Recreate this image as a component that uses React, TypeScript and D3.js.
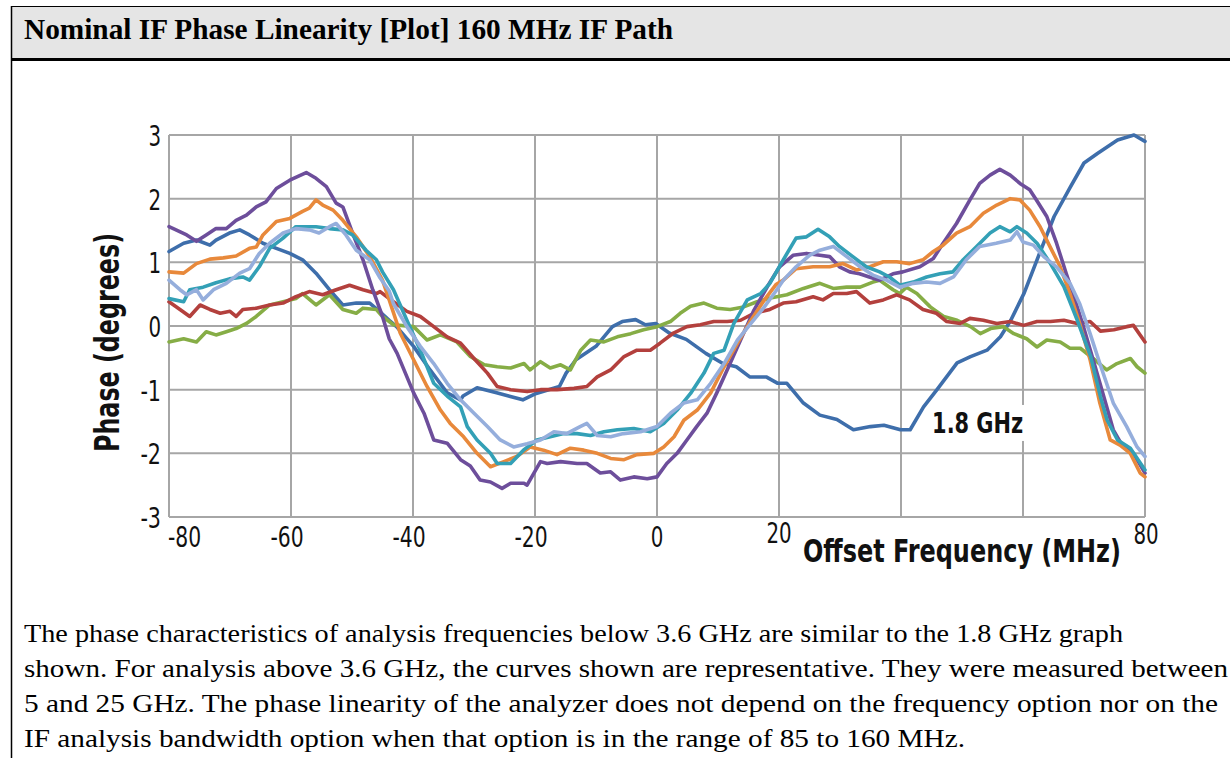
import React, { useLayoutEffect, useRef, useState } from "react";
import * as d3 from "d3";

// ---- Data ----
const xGrid = [-80, -60, -40, -20, 0, 20, 40, 60, 80];
const yGrid = [-3, -2, -1, 0, 1, 2, 3];
const xTickLabels = [-80, -60, -40, -20, 0, 20, 80];
const yTickLabels = [3, 2, 1, 0, -1, -2, -3];

const title = "Nominal IF Phase Linearity [Plot] 160 MHz IF Path";
const yTitle = "Phase (degrees)";
const xTitle = "Offset Frequency (MHz)";
const annotation = "1.8 GHz";
const annotationPos: [number, number] = [45.1, -1.68];
const paragraph = [
  "The phase characteristics of analysis frequencies below 3.6 GHz are similar to the 1.8 GHz graph",
  "shown. For analysis above 3.6 GHz, the curves shown are representative. They were measured between",
  "5 and 25 GHz. The phase linearity of the analyzer does not depend on the frequency option nor on the",
  "IF analysis bandwidth option when that option is in the range of 85 to 160 MHz.",
];

type P = [number, number];

const blue18: P[] = [[-80,1.17],[-77.6,1.3],[-75.5,1.35],[-73.3,1.27],[-72.3,1.35],[-70.1,1.46],[-68.4,1.51],[-66.8,1.43],[-64.6,1.3],[-62.4,1.22],[-60.2,1.14],[-58.1,1.04],[-55.9,0.83],[-53.7,0.57],[-51.5,0.33],[-49.3,0.36],[-47.1,0.36],[-45.5,0.23],[-43.9,0.09],[-42.7,-0.01],[-39.9,-0.32],[-37.2,-0.69],[-34.4,-1.05],[-32.2,-1.16],[-31.8,-1.1],[-29.5,-0.97],[-26.3,-1.05],[-22,-1.16],[-19.8,-1.06],[-16,-0.95],[-14.9,-0.74],[-13.3,-0.53],[-10,-0.32],[-7.3,-0.01],[-5.7,0.07],[-3.5,0.1],[-1.9,0.02],[-0.2,0.04],[2,-0.11],[4.8,-0.21],[8,-0.43],[10.8,-0.59],[13,-0.64],[15.2,-0.8],[17.9,-0.8],[19.8,-0.9],[21.3,-0.9],[24,-1.21],[26.7,-1.4],[29.5,-1.47],[32.2,-1.63],[35,-1.58],[37.2,-1.56],[39.9,-1.63],[41.5,-1.63],[43.7,-1.27],[45.9,-1.0],[49.2,-0.58],[51.4,-0.48],[54.1,-0.38],[56.3,-0.17],[58,0.09],[60.2,0.52],[62.3,1.04],[65.1,1.72],[67.8,2.19],[70,2.56],[72.2,2.71],[75.5,2.92],[78.2,3.0],[80,2.9]];

const purple: P[] = [[-80,1.56],[-77.1,1.43],[-75.5,1.33],[-73.9,1.43],[-72.3,1.53],[-70.6,1.53],[-69,1.66],[-67.3,1.74],[-65.7,1.87],[-64.1,1.95],[-62.4,2.16],[-60.2,2.29],[-57.5,2.41],[-55.9,2.32],[-54.2,2.19],[-52.6,1.93],[-51.5,1.87],[-49.9,1.46],[-48.2,1.04],[-46.6,0.57],[-45,0.15],[-43.9,-0.2],[-42.6,-0.43],[-39.9,-1.05],[-38.2,-1.37],[-36.6,-1.79],[-34.4,-1.84],[-32.2,-2.1],[-30.6,-2.2],[-29,-2.42],[-27.3,-2.45],[-25.4,-2.55],[-24,-2.47],[-21.8,-2.47],[-21.3,-2.5],[-19.1,-2.13],[-18,-2.16],[-15.8,-2.13],[-13.1,-2.16],[-11.5,-2.16],[-9.3,-2.31],[-7.6,-2.29],[-6,-2.42],[-3.8,-2.37],[-1.6,-2.4],[0,-2.37],[1.6,-2.16],[3.3,-2.0],[4.9,-1.79],[6.5,-1.58],[8.2,-1.37],[9.8,-1.05],[11.5,-0.69],[13.7,-0.22],[15.9,0.25],[18.1,0.62],[20.1,0.93],[22.3,1.11],[24.5,1.14],[26.7,1.11],[28.3,1.09],[29.9,0.93],[31.6,0.85],[33.2,0.82],[34.8,0.77],[36.5,0.72],[38.7,0.82],[40.3,0.85],[43.1,0.93],[45.3,1.06],[46.9,1.3],[49.1,1.61],[51.3,1.98],[52.9,2.24],[54.6,2.37],[56.2,2.46],[57.9,2.37],[59.5,2.24],[61.1,2.14],[62.2,1.98],[63.9,1.72],[65.5,1.3],[67.1,0.82],[68.2,0.51],[69.9,-0.01],[71.5,-0.53],[73.1,-1.06],[74.8,-1.63],[76.4,-1.9],[78.1,-2.0],[80,-2.31]];

const orange: P[] = [[-80,0.85],[-77.6,0.83],[-75.5,0.98],[-73.3,1.05],[-71.1,1.07],[-69,1.1],[-66.8,1.22],[-65.7,1.24],[-64.6,1.43],[-62.4,1.64],[-60.2,1.69],[-58.1,1.8],[-57,1.85],[-55.9,1.98],[-54.8,1.9],[-53.1,1.82],[-51.5,1.66],[-49.3,1.4],[-47.1,1.09],[-45,0.72],[-43.9,0.41],[-42.1,-0.11],[-39.9,-0.53],[-37.7,-0.95],[-35.5,-1.32],[-33.9,-1.53],[-31.7,-1.74],[-29.5,-2.0],[-27.3,-2.21],[-25.1,-2.13],[-23,-2.05],[-20.8,-1.9],[-18.6,-1.95],[-16.4,-2.02],[-14.2,-1.92],[-12,-1.95],[-9.8,-2.0],[-7.6,-2.08],[-5.4,-2.1],[-3.3,-2.02],[-0.5,-2.0],[1.1,-1.9],[2.8,-1.74],[4.4,-1.48],[6.6,-1.32],[8.8,-1.05],[11,-0.64],[13.2,-0.27],[15.4,0.09],[17.6,0.41],[19.5,0.65],[20.7,0.72],[22.8,0.9],[25.6,0.93],[28.3,0.93],[30.5,0.98],[32.7,0.88],[34.9,0.93],[37.1,1.01],[39.3,1.01],[41.4,0.98],[43.6,1.04],[45.3,1.17],[46.9,1.27],[49.1,1.46],[51.3,1.56],[53.5,1.77],[55.7,1.9],[57.9,2.0],[59.5,1.98],[61.1,1.82],[62.8,1.56],[64.4,1.25],[66.1,0.93],[67.7,0.51],[69.3,0.04],[71,-0.53],[72.6,-1.21],[74.3,-1.79],[75.9,-1.87],[77.6,-2.0],[79.2,-2.31],[80,-2.37]];

const teal: P[] = [[-80,0.43],[-77.6,0.38],[-76.6,0.57],[-74.4,0.61],[-72.3,0.68],[-70.1,0.74],[-67.9,0.77],[-66.8,0.72],[-65.2,0.93],[-63.5,1.22],[-61.3,1.38],[-59.2,1.56],[-55.9,1.56],[-53.7,1.53],[-51.5,1.51],[-49.9,1.43],[-47.7,1.19],[-46,1.04],[-45,0.85],[-43.2,0.57],[-41,0.09],[-38.8,-0.38],[-36.6,-0.9],[-34.4,-1.1],[-32.2,-1.27],[-31.1,-1.58],[-29.5,-1.79],[-27.3,-2.0],[-26.2,-2.16],[-24,-2.16],[-21.9,-1.95],[-19.7,-1.79],[-17.5,-1.74],[-15.3,-1.69],[-13.1,-1.69],[-10.9,-1.72],[-8.7,-1.66],[-6.5,-1.63],[-3.8,-1.61],[-1.1,-1.66],[1.1,-1.53],[3.3,-1.32],[5.5,-1.06],[7.7,-0.74],[9.3,-0.43],[11,-0.38],[12.6,0.04],[14.8,0.41],[17,0.51],[18.5,0.67],[20.7,1.04],[22.8,1.38],[24.5,1.4],[26.4,1.52],[28.3,1.4],[29.9,1.25],[32.1,1.09],[34.3,0.93],[36.5,0.85],[38.1,0.77],[39.8,0.64],[42,0.69],[44.2,0.77],[46.4,0.82],[48.5,0.85],[50.2,1.04],[52.4,1.25],[54.6,1.46],[56.2,1.56],[57.9,1.48],[59,1.56],[60.6,1.46],[62.3,1.3],[64.5,0.98],[66.7,0.62],[68.9,0.09],[71.1,-0.48],[72.7,-1.11],[73.8,-1.48],[75.5,-1.79],[77.6,-1.92],[80,-2.26]];

const lightBlue: P[] = [[-80,0.72],[-78.2,0.57],[-77.1,0.49],[-75.5,0.57],[-74.4,0.41],[-72.7,0.57],[-70.6,0.67],[-68.4,0.83],[-66.8,0.9],[-65.2,1.14],[-63.5,1.3],[-61.3,1.46],[-59.2,1.53],[-57,1.51],[-55.4,1.46],[-53.7,1.56],[-52.6,1.61],[-51,1.43],[-49.3,1.19],[-47.1,1.04],[-45.5,0.77],[-43.9,0.55],[-43.2,0.35],[-41,-0.01],[-38.8,-0.32],[-36.6,-0.59],[-34.4,-0.9],[-32.2,-1.16],[-30,-1.37],[-27.8,-1.58],[-25.7,-1.79],[-23.5,-1.9],[-21.3,-1.85],[-19.1,-1.79],[-16.9,-1.66],[-14.8,-1.69],[-12.6,-1.58],[-11.5,-1.53],[-9.8,-1.72],[-7.6,-1.74],[-5.5,-1.69],[-2.7,-1.66],[0,-1.58],[2.2,-1.37],[4.4,-1.21],[6.6,-1.16],[8.8,-0.9],[11,-0.59],[13.2,-0.22],[15.4,0.04],[17.6,0.3],[19.5,0.55],[20.7,0.72],[22.8,0.93],[25,1.11],[26.7,1.19],[28.9,1.25],[31.1,1.09],[33.3,0.93],[35.4,0.8],[37.6,0.72],[39.8,0.61],[42,0.67],[44.2,0.69],[46.4,0.67],[48.6,0.77],[50.7,1.04],[52.9,1.25],[55.6,1.3],[57.9,1.35],[59,1.48],[60,1.32],[61.7,1.27],[63.4,1.09],[65.5,0.93],[67.7,0.67],[69.3,0.35],[71,-0.12],[72.6,-0.59],[74.8,-1.21],[77,-1.58],[78.7,-1.9],[80,-2.05]];

const red: P[] = [[-80,0.38],[-78.2,0.26],[-76.6,0.15],[-74.9,0.33],[-73.3,0.26],[-71.6,0.2],[-70,0.23],[-69,0.15],[-67.9,0.26],[-65.7,0.28],[-63.5,0.33],[-61.3,0.36],[-59.2,0.46],[-57,0.54],[-54.8,0.49],[-52.6,0.57],[-50.4,0.64],[-48.2,0.57],[-46,0.51],[-45.4,0.54],[-43.2,0.38],[-41,0.23],[-38.8,0.15],[-36.6,-0.01],[-34.4,-0.17],[-32.2,-0.27],[-30,-0.51],[-27.8,-0.74],[-26.2,-0.95],[-24,-1.0],[-21.3,-1.03],[-19.1,-1.0],[-16.4,-1.0],[-13.6,-0.98],[-11.5,-0.95],[-9.8,-0.8],[-7.6,-0.69],[-5.4,-0.48],[-3.3,-0.38],[-1.1,-0.38],[0.5,-0.27],[2.7,-0.11],[4.9,-0.01],[7.1,0.02],[9.3,0.07],[11.5,0.07],[13.7,0.09],[15.9,0.2],[18.5,0.26],[20.7,0.36],[22.8,0.38],[25.6,0.46],[27.2,0.41],[28.9,0.51],[31.1,0.51],[32.7,0.54],[34.9,0.36],[37.1,0.41],[39.3,0.49],[41.4,0.41],[43.6,0.26],[45.8,0.2],[47.5,0.07],[49.7,0.04],[51.3,0.12],[53.5,0.09],[55.7,0.04],[57.9,0.07],[60.1,0.01],[62.3,0.07],[64.5,0.07],[66.7,0.09],[68.9,0.04],[71,0.07],[72.7,-0.08],[74.9,-0.06],[77,-0.01],[78.1,0.01],[80,-0.25]];

const green: P[] = [[-80,-0.25],[-77.6,-0.2],[-75.5,-0.25],[-73.9,-0.09],[-72.3,-0.14],[-70.6,-0.09],[-69,-0.04],[-67.3,0.04],[-65.7,0.15],[-63.5,0.33],[-61.3,0.38],[-59.2,0.43],[-58.1,0.51],[-55.9,0.33],[-53.7,0.49],[-51.5,0.26],[-49.3,0.2],[-48.2,0.28],[-46,0.26],[-45,0.15],[-43.2,0.02],[-39.9,-0.01],[-37.7,-0.22],[-35.5,-0.14],[-32.8,-0.25],[-30.6,-0.48],[-28.3,-0.61],[-26.2,-0.64],[-24,-0.66],[-21.8,-0.59],[-20.8,-0.69],[-19.1,-0.56],[-17.5,-0.66],[-15.8,-0.61],[-14.2,-0.69],[-12.5,-0.38],[-10.9,-0.22],[-8.7,-0.25],[-6.5,-0.17],[-4.3,-0.12],[-2.2,-0.06],[0,-0.01],[2.2,0.07],[3.8,0.2],[5.5,0.31],[7.7,0.36],[9.8,0.28],[12,0.26],[14.2,0.3],[16.4,0.38],[18.6,0.44],[21.3,0.49],[24,0.59],[26.7,0.67],[28.9,0.59],[31.1,0.61],[33.3,0.61],[35.4,0.69],[36.5,0.72],[38.7,0.57],[39.8,0.51],[40.9,0.61],[42.6,0.51],[44.8,0.3],[47,0.15],[49.2,0.09],[51.4,-0.01],[53,-0.12],[54.7,-0.04],[56.8,-0.01],[58.5,-0.12],[60.6,-0.2],[62.3,-0.33],[63.9,-0.22],[66.1,-0.25],[67.7,-0.35],[69.4,-0.35],[71.5,-0.51],[73.7,-0.69],[75.4,-0.59],[77.6,-0.51],[78.7,-0.64],[80,-0.74]];

const seriesList: { name: string; data: P[]; color: string }[] = [
  { name: "1.8 GHz", data: blue18, color: "#3e6eab" },
  { name: "green", data: green, color: "#86ad46" },
  { name: "red", data: red, color: "#b3403d" },
  { name: "purple", data: purple, color: "#6d4e9b" },
  { name: "orange", data: orange, color: "#e8893b" },
  { name: "teal", data: teal, color: "#33a0b6" },
  { name: "lightblue", data: lightBlue, color: "#95aedc" },
];

const W = 1230;
const H = 758;
const sansCond = "'DejaVu Sans Condensed', 'Liberation Sans Narrow', 'Arial Narrow', sans-serif";
const serif = "'Liberation Serif', 'Times New Roman', Times, serif";

// tick label text and its rendered width (narrow condensed digits)
const fmt = (v: number) => (v < 0 ? "-" + Math.abs(v) : String(v));
const labelWidth = (v: number) => String(Math.abs(v)).length * 12.6 + (v < 0 ? 8 : 0);

export default function App() {
  const x = d3.scaleLinear().domain([-80, 80]).range([169, 1145]);
  const y = d3.scaleLinear().domain([-3, 3]).range([517, 135]);
  const line = d3
    .line<P>()
    .x((d) => x(d[0]))
    .y((d) => y(d[1]))
    .curve(d3.curveLinear);

  const xTitleRef = useRef<SVGTextElement>(null);
  const [xTitleScale, setXTitleScale] = useState(0.85);
  useLayoutEffect(() => {
    const el = xTitleRef.current;
    if (el) {
      const w = el.getComputedTextLength();
      if (w > 0) setXTitleScale(318 / w);
    }
  }, []);

  const gridColor = "#a6a6a6";
  const textColor = "#111";
  const tickFont = {
    fontFamily: sansCond,
    fontStretch: "condensed",
    fontSize: 28,
    fill: textColor,
    lengthAdjust: "spacingAndGlyphs",
  } as const;

  return (
    <div style={{ position: "absolute", left: 0, top: 0 }}>
      <svg width={W} height={H} style={{ display: "block" }}>
        <rect x={0} y={0} width={W} height={H} fill="#fff" />
        {/* header */}
        <rect x={11} y={6} width={W - 11} height={53} fill="#e5e5e5" />
        <line x1={11} x2={W} y1={6.5} y2={6.5} stroke="#000" strokeWidth={1} />
        <line x1={11} x2={W} y1={59.5} y2={59.5} stroke="#000" strokeWidth={3} />
        <line x1={11.5} x2={11.5} y1={6} y2={H} stroke="#000" strokeWidth={1.5} />
        <text
          x={24}
          y={39}
          fontFamily={serif}
          fontWeight="bold"
          fontSize={28.5}
          fill="#000"
          textLength={649}
          lengthAdjust="spacingAndGlyphs"
        >
          {title}
        </text>

        {/* grid */}
        <g>
          {xGrid.map((v) => (
            <line key={"gx" + v} x1={x(v)} x2={x(v)} y1={y(3)} y2={y(-3)} stroke={gridColor} strokeWidth={2} />
          ))}
          {yGrid.map((v) => (
            <line key={"gy" + v} x1={x(-80)} x2={x(80)} y1={y(v)} y2={y(v)} stroke={gridColor} strokeWidth={2} />
          ))}
        </g>

        {/* annotation background */}
        <rect
          x={x(annotationPos[0]) - 6}
          y={y(annotationPos[1]) - 28}
          width={104}
          height={36}
          fill="#fff"
        />

        {/* series */}
        <g fill="none" strokeWidth={3.6} strokeLinejoin="round" strokeLinecap="round">
          {seriesList.map((s) => (
            <path key={s.name} d={line(s.data) || ""} stroke={s.color} />
          ))}
        </g>

        <text
          x={x(annotationPos[0])}
          y={y(annotationPos[1])}
          fontFamily={sansCond}
          fontStretch="condensed"
          fontWeight="bold"
          fontSize={28}
          fill={textColor}
          textLength={91}
          lengthAdjust="spacingAndGlyphs"
        >
          {annotation}
        </text>

        {/* y tick labels */}
        {yTickLabels.map((v) => (
          <text key={"yt" + v} x={161} y={y(v) + 11} textAnchor="end" textLength={labelWidth(v)} {...tickFont}>
            {fmt(v)}
          </text>
        ))}

        {/* x tick labels */}
        {xTickLabels.map((v) => {
          const raised = v === 20 ? 4 : v === 80 ? 3 : 0;
          const w = labelWidth(v);
          let left: number;
          if (v === -80) left = x(v) - 1;
          else if (v < 0) left = x(v) + 12.6 - w;
          else left = x(v) - w / 2 + (v === 80 ? 1 : 0);
          return (
            <text key={"xt" + v} x={left} y={547 - raised} textAnchor="start" textLength={w} {...tickFont}>
              {fmt(v)}
            </text>
          );
        })}

        {/* axis titles */}
        <text
          ref={xTitleRef}
          transform={`translate(803, 562) scale(${xTitleScale}, 1)`}
          fontFamily={sansCond}
          fontStretch="condensed"
          fontWeight="bold"
          fontSize={32}
          fill={textColor}
        >
          {xTitle}
        </text>
        <text
          transform={`translate(118.5, ${342.5}) rotate(-90)`}
          textAnchor="middle"
          fontFamily={sansCond}
          fontStretch="condensed"
          fontWeight="bold"
          fontSize={33}
          fill={textColor}
          textLength={219}
          lengthAdjust="spacingAndGlyphs"
        >
          {yTitle}
        </text>

        {/* paragraph */}
        {paragraph.map((ln, i) => (
          <text
            key={"p" + i}
            x={24}
            y={642 + i * 35}
            fontFamily={serif}
            fontSize={25}
            fill="#000"
            textLength={[1099, 1204, 1194, 941][i]}
            lengthAdjust="spacingAndGlyphs"
          >
            {ln}
          </text>
        ))}
      </svg>
    </div>
  );
}
